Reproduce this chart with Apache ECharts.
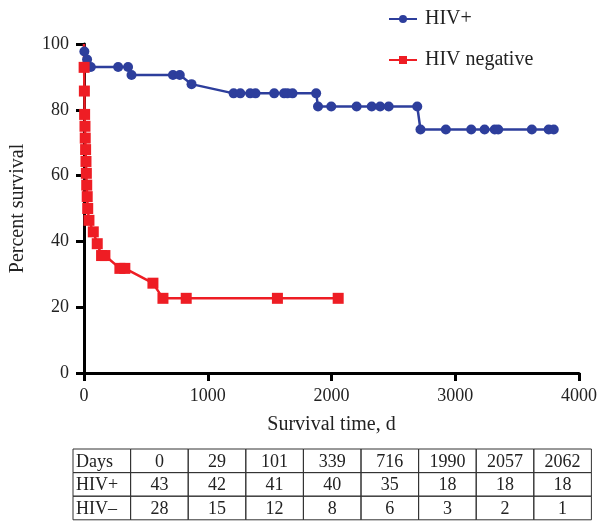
<!DOCTYPE html>
<html>
<head>
<meta charset="utf-8">
<script src="https://cdn.jsdelivr.net/npm/echarts@6/dist/echarts.min.js"></script>
<style>
html,body{margin:0;padding:0;background:#fff;}
#c{width:600px;height:523px;}
</style>
</head>
<body>
<div id="c"></div>
<script>
// Survival data (days, percent survival)
var hivPosDays = [0, 3, 25, 55, 276, 356, 384, 719, 774, 869, 1209, 1263, 1343, 1386, 1537, 1617, 1644, 1685, 1876, 1891, 1998, 2203, 2325, 2393, 2462, 2693, 2719, 2924, 3129, 3237, 3319, 3347, 3619, 3755, 3796];
var hivPosSurv = [100, 97.7, 95.3, 93.0, 93.0, 93.0, 90.6, 90.6, 90.6, 87.8, 85, 85, 85, 85, 85, 85, 85, 85, 85, 81, 81, 81, 81, 81, 81, 81, 74, 74, 74, 74, 74, 74, 74, 74, 74];
var hivNegDays = [0, 1, 3, 5, 8, 10, 13, 16, 19, 22, 26, 30, 40, 75, 107, 142, 169, 290, 330, 557, 638, 826, 1563, 2054];
var hivNegSurv = [100, 92.9, 85.7, 78.6, 75, 71.4, 67.9, 64.3, 60.7, 57.1, 53.6, 50, 46.4, 42.9, 39.3, 35.7, 35.7, 31.8, 31.8, 27.3, 22.7, 22.7, 22.7, 22.7];
var seriesNames = ['HIV+', 'HIV negative'];

// Number at risk table
var tableRowLabels = ['Days', 'HIV+', 'HIV\u2013'];
var tableDays = ['0', '29', '101', '339', '716', '1990', '2057', '2062'];
var tableHivPos = ['43', '42', '41', '40', '35', '18', '18', '18'];
var tableHivNeg = ['28', '15', '12', '8', '6', '3', '2', '1'];

var BLUE = '#2d3e9c';
var RED = '#ee1d24';
var FONT = 'Liberation Serif';

function pairs(xs, ys) {
  return xs.map(function (x, i) {
    var item = { value: [x, ys[i]] };
    if (i === 0) item.symbol = 'none';
    return item;
  });
}

var chart = echarts.init(document.getElementById('c'), null, { renderer: 'canvas' });

// table graphics
var graphics = [];
var tLeft = 73, tTop = 449, colW = 57.6, rowH = 23.6, nCols = 9;
var rows = [tableDays, tableHivPos, tableHivNeg];
for (var r = 0; r < 3; r++) {
  for (var c = 0; c < nCols; c++) {
    graphics.push({
      type: 'rect',
      shape: { x: tLeft + c * colW, y: tTop + r * rowH, width: colW, height: rowH },
      style: { fill: 'none', stroke: '#333', lineWidth: 1 }
    });
    var txt = c === 0 ? tableRowLabels[r] : rows[r][c - 1];
    graphics.push({
      type: 'text',
      x: c === 0 ? tLeft + 3 : tLeft + c * colW + colW / 2,
      y: tTop + r * rowH + rowH / 2 + 1,
      style: {
        text: txt, fill: '#222', font: '18px "' + FONT + '"',
        align: c === 0 ? 'left' : 'center', verticalAlign: 'middle'
      }
    });
  }
}

chart.setOption({
  animation: false,
  backgroundColor: '#fff',
  grid: { left: 84, right: 19, top: 44, bottom: 150, containLabel: false },
  legend: {
    orient: 'vertical', left: 388, top: 9, itemGap: 21, padding: 0,
    itemWidth: 28, itemHeight: 10,
    textStyle: { fontFamily: FONT, fontSize: 20, color: '#222', padding: [0, 0, 0, 3] },
    data: seriesNames
  },
  xAxis: {
    type: 'value', min: 0, max: 4000, interval: 1000,
    name: 'Survival time, d', nameLocation: 'middle', nameGap: 42,
    nameTextStyle: { fontFamily: FONT, fontSize: 20, color: '#222' },
    axisLine: { show: true, lineStyle: { color: '#000', width: 3 } },
    axisTick: { show: true, length: 8, lineStyle: { color: '#000', width: 3 } },
    axisLabel: { fontFamily: FONT, fontSize: 18, color: '#222', margin: 14, formatter: function (v) { return String(v); } },
    splitLine: { show: false }
  },
  yAxis: {
    type: 'value', min: 0, max: 100, interval: 20,
    name: 'Percent survival', nameLocation: 'middle', nameGap: 56, nameRotate: 90,
    nameTextStyle: { fontFamily: FONT, fontSize: 20, color: '#222' },
    axisLine: { show: true, lineStyle: { color: '#000', width: 3 } },
    axisTick: { show: true, length: 8, lineStyle: { color: '#000', width: 3 } },
    axisLabel: { fontFamily: FONT, fontSize: 18, color: '#222', margin: 15 },
    splitLine: { show: false }
  },
  series: [
    {
      name: seriesNames[0], type: 'line', data: pairs(hivPosDays, hivPosSurv),
      symbol: 'circle', symbolSize: 10, showAllSymbol: true,
      lineStyle: { color: BLUE, width: 2.5 }, itemStyle: { color: BLUE }
    },
    {
      name: seriesNames[1], type: 'line', data: pairs(hivNegDays, hivNegSurv),
      symbol: 'rect', symbolSize: 11, showAllSymbol: true,
      lineStyle: { color: RED, width: 2.5 }, itemStyle: { color: RED }
    }
  ],
  graphic: graphics
});
</script>
</body>
</html>
